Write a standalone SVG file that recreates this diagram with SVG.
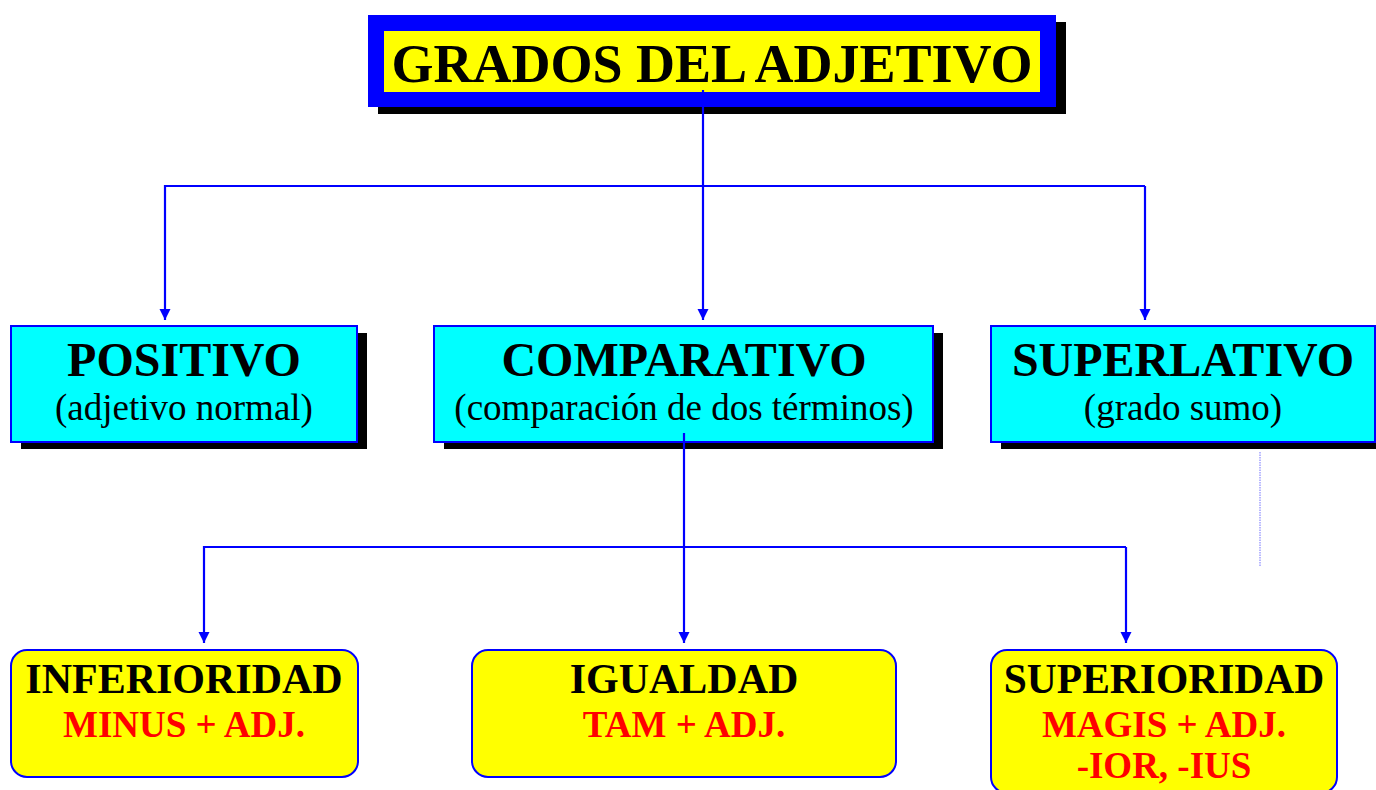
<svg xmlns="http://www.w3.org/2000/svg" width="1376" height="790" viewBox="0 0 1376 790">
<style>
.t{font-family:"Liberation Serif","Times New Roman",serif;text-anchor:middle}
.b{font-weight:bold}
.shadow{fill:#000}
.cyan{fill:#00ffff;stroke:#0000ff;stroke-width:2}
.yel{fill:#ffff00;stroke:#0000ff;stroke-width:2}
.conn{fill:none;stroke:#0000ff;stroke-width:2.2}
.red{fill:#ff0000}
</style>
<defs>
<marker id="ah" markerUnits="userSpaceOnUse" markerWidth="12" markerHeight="12" viewBox="0 0 12 12" refX="11" refY="6" orient="auto">
<path d="M0,0.5 L11,6 L0,11.5 Z" fill="#0000ff"/>
</marker>
</defs>
<rect width="1376" height="790" fill="#fff"/>
<g id="title">
<rect class="shadow" x="378" y="22" width="688" height="92"/>
<rect x="368" y="15" width="688" height="92" fill="#0000ff"/>
<rect x="384" y="31" width="656" height="61" fill="#ffff00"/>
<text class="t b" x="712" y="82" font-size="54">GRADOS DEL ADJETIVO</text>
</g>
<g id="positivo">
<rect class="shadow" x="21" y="333" width="346" height="116"/>
<rect class="cyan" x="11" y="326" width="346" height="116"/>
<text class="t b" x="184" y="376" font-size="48">POSITIVO</text>
<text class="t" x="184" y="420" font-size="37">(adjetivo normal)</text>
</g>
<g id="comparativo">
<rect class="shadow" x="444" y="333" width="499" height="116"/>
<rect class="cyan" x="434" y="326" width="499" height="116"/>
<text class="t b" x="684" y="376" font-size="48">COMPARATIVO</text>
<text class="t" x="684" y="420" font-size="37">(comparación de dos términos)</text>
</g>
<g id="superlativo">
<rect class="shadow" x="1001" y="333" width="375" height="116"/>
<rect class="cyan" x="991" y="326" width="384" height="116"/>
<text class="t b" x="1183" y="376" font-size="48">SUPERLATIVO</text>
<text class="t" x="1183" y="420" font-size="37">(grado sumo)</text>
</g>
<g id="inferioridad">
<rect class="yel" x="11" y="650" width="347" height="127" rx="16"/>
<text class="t b" x="184" y="693" font-size="42">INFERIORIDAD</text>
<text class="t b red" x="184" y="737" font-size="37">MINUS + ADJ.</text>
</g>
<g id="igualdad">
<rect class="yel" x="472" y="650" width="424" height="127" rx="16"/>
<text class="t b" x="684" y="693" font-size="42">IGUALDAD</text>
<text class="t b red" x="684" y="737" font-size="37">TAM + ADJ.</text>
</g>
<g id="superioridad">
<rect class="yel" x="991" y="650" width="346" height="143" rx="16"/>
<text class="t b" x="1164" y="693" font-size="41.5">SUPERIORIDAD</text>
<text class="t b red" x="1164" y="737" font-size="37">MAGIS + ADJ.</text>
<text class="t b red" x="1164" y="778" font-size="37">-IOR, -IUS</text>
</g>
<g id="connectors">
<path class="conn" d="M703,90 V320" marker-end="url(#ah)"/>
<path class="conn" d="M1145,186 H165 V320" marker-end="url(#ah)"/>
<path class="conn" d="M1145,186 V320" marker-end="url(#ah)"/>
<path class="conn" d="M684,433 V643" marker-end="url(#ah)"/>
<path class="conn" d="M1126,547 H204 V643" marker-end="url(#ah)"/>
<path class="conn" d="M1126,547 V643" marker-end="url(#ah)"/>
<path d="M1260,452 V567" fill="none" stroke="#7070ff" stroke-width="1" stroke-dasharray="1.5,1"/>
</g>
</svg>
